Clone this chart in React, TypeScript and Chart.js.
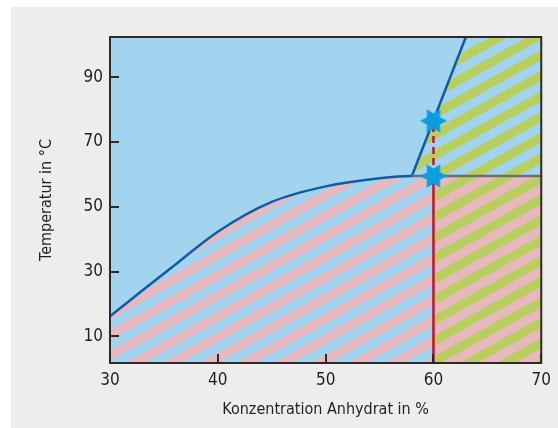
import React, { useEffect, useRef } from "react";
import { Chart, registerables } from "chart.js";

Chart.register(...registerables);

// ---- data ----
const curveConc = [30, 33, 36, 40, 45, 50, 55, 58];
const curveTemp = [16.2, 24.2, 32, 42.3, 51.5, 56.3, 58.8, 59.5];
const eutecticTemp = 59.5;
const lineConc = [60, 70];
const steepConc = [58, 63, 70];
const steepTemp = [59.5, 102.4, 102.4];
const redConc = [60, 60, 60];
const redTemp = [1.8, 59.5, 76.5];
const starConc = [60, 60];
const starTemp = [59.5, 76.5];
const xTicks = [30, 40, 50, 60, 70];
const yTicks = [10, 30, 50, 70, 90];
const xLimits = [30, 70];
const yLimits = [1.8, 102.4];

const BLUE = "#a2d3ef";
const PINK = "#e8b8bf";
const GREEN = "#b8cf5f";
const CURVE = "#0b5ea6";
const GRAY = "#6d6e70";
const RED = "#c4122f";
const STAR = "#0a9edc";
const FRAME = "#2b2a29";
const FONT = "'Liberation Sans Narrow', 'DejaVu Sans Condensed', 'Arial Narrow', sans-serif";

function stripes(ctx: CanvasRenderingContext2D, c1: string, c2: string) {
  const tile = document.createElement("canvas");
  tile.width = 8;
  tile.height = 18;
  const t = tile.getContext("2d")!;
  t.fillStyle = c1;
  t.fillRect(0, 0, 8, 9);
  t.fillStyle = c2;
  t.fillRect(0, 9, 8, 9);
  const p = ctx.createPattern(tile, "repeat")!;
  p.setTransform(new DOMMatrix().rotateSelf(-29));
  return p;
}

function starImage() {
  const c = document.createElement("canvas");
  c.width = 30;
  c.height = 30;
  const g = c.getContext("2d")!;
  g.fillStyle = STAR;
  g.beginPath();
  const R = 13.5, r = 7.5;
  for (let i = 0; i < 12; i++) {
    const a = (i * Math.PI) / 6;
    const rad = i % 2 === 0 ? R : r;
    const x = 15 + rad * Math.cos(a);
    const y = 15 - rad * Math.sin(a);
    if (i === 0) g.moveTo(x, y);
    else g.lineTo(x, y);
  }
  g.closePath();
  g.fill();
  return c;
}

const framePlugin = {
  id: "framePlugin",
  beforeDraw(chart: any) {
    const { ctx, chartArea: a } = chart;
    ctx.save();
    ctx.fillStyle = BLUE;
    ctx.fillRect(a.left, a.top, a.right - a.left, a.bottom - a.top);
    ctx.restore();
  },
  afterDatasetsDraw(chart: any) {
    const { ctx, chartArea: a, scales } = chart;
    ctx.save();
    ctx.strokeStyle = FRAME;
    ctx.lineWidth = 2;
    ctx.beginPath();
    for (const v of yTicks) {
      const y = Math.round(scales.y.getPixelForValue(v));
      ctx.moveTo(a.left, y);
      ctx.lineTo(a.left + 9, y);
    }
    for (const v of xTicks) {
      const x = Math.round(scales.x.getPixelForValue(v));
      ctx.moveTo(x, a.bottom);
      ctx.lineTo(x, a.bottom - 9);
    }
    ctx.stroke();
    ctx.strokeRect(a.left, a.top, a.right - a.left, a.bottom - a.top);
    ctx.restore();
  },
};

export default function App() {
  const ref = useRef<HTMLCanvasElement>(null);
  useEffect(() => {
    const canvas = ref.current!;
    const ctx = canvas.getContext("2d")!;
    const pinkBlue = stripes(ctx, PINK, BLUE);
    const greenPink = stripes(ctx, GREEN, PINK);
    const greenBlue = stripes(ctx, GREEN, BLUE);
    const star = starImage();
    const nCurve = curveConc.length;

    const chart = new Chart(canvas, {
      type: "line",
      data: {
        datasets: [
          {
            order: 3,
            data: [
              ...curveConc.map((x, i) => ({ x, y: curveTemp[i] })),
              { x: lineConc[0], y: eutecticTemp },
            ],
            fill: "start",
            backgroundColor: pinkBlue,
            borderColor: CURVE,
            borderWidth: 2.5,
            cubicInterpolationMode: "monotone",
            pointRadius: 0,
            segment: {
              borderColor: (c: any) => (c.p0DataIndex >= nCurve - 1 ? GRAY : CURVE),
            },
          },
          {
            order: 3,
            data: lineConc.map((x) => ({ x, y: eutecticTemp })),
            fill: "start",
            backgroundColor: greenPink,
            borderColor: GRAY,
            borderWidth: 2.5,
            pointRadius: 0,
          },
          {
            order: 3,
            data: steepConc.map((x, i) => ({ x, y: steepTemp[i] })),
            fill: { value: eutecticTemp },
            backgroundColor: greenBlue,
            borderColor: CURVE,
            borderWidth: 2.5,
            pointRadius: 0,
            tension: 0,
            segment: {
              borderColor: (c: any) => (c.p0DataIndex >= 1 ? "rgba(0,0,0,0)" : CURVE),
            },
          },
          {
            order: 1,
            data: redConc.map((x, i) => ({ x, y: redTemp[i] })),
            fill: false,
            borderColor: RED,
            borderWidth: 2.5,
            pointRadius: 0,
            segment: {
              borderDash: (c: any) => (c.p0DataIndex === 1 ? [7, 4] : undefined),
            },
          },
          {
            order: 0,
            data: starConc.map((x, i) => ({ x, y: starTemp[i] })),
            showLine: false,
            fill: false,
            pointStyle: star as any,
            pointRadius: 15,
            pointHoverRadius: 15,
          },
        ],
      },
      options: {
        animation: false,
        responsive: false,
        events: [],
        layout: { padding: { left: 0, top: 37, right: 15, bottom: 0 } },
        plugins: {
          legend: { display: false },
          tooltip: { enabled: false },
          filler: { drawTime: "beforeDatasetsDraw" },
        },
        scales: {
          x: {
            type: "linear",
            min: xLimits[0],
            max: xLimits[1],
            afterBuildTicks: (s: any) => {
              s.ticks = xTicks.map((v) => ({ value: v }));
            },
            afterFit: (s: any) => {
              s.height = 65;
            },
            grid: { display: false, drawTicks: false },
            border: { display: false },
            ticks: {
              color: "#231f20",
              padding: 7,
              font: { family: FONT, size: 17 },
              maxRotation: 0,
            },
            title: {
              display: true,
              text: "Konzentration Anhydrat in %",
              color: "#231f20",
              font: { family: FONT, size: 16 },
              padding: { top: 0, bottom: 9 },
            },
          },
          y: {
            type: "linear",
            min: yLimits[0],
            max: yLimits[1],
            afterBuildTicks: (s: any) => {
              s.ticks = yTicks.map((v) => ({ value: v }));
            },
            afterFit: (s: any) => {
              s.width = 110;
            },
            grid: { display: false, drawTicks: false },
            border: { display: false },
            ticks: {
              color: "#231f20",
              padding: 7,
              font: { family: FONT, size: 17 },
            },
            title: {
              display: true,
              text: "Temperatur in °C",
              color: "#231f20",
              font: { family: FONT, size: 16 },
              padding: { top: 37, bottom: 0 },
            },
          },
        },
      },
      plugins: [framePlugin],
    } as any);
    return () => chart.destroy();
  }, []);

  return (
    <div style={{ position: "absolute", left: 0, top: 0, width: 558, height: 428, background: "#ffffff" }}>
      <div style={{ position: "absolute", left: 11, top: 7, right: 0, bottom: 0, background: "#eeedeb" }} />
      <canvas ref={ref} width={558} height={428} style={{ position: "absolute", left: 0, top: 0 }} />
    </div>
  );
}
